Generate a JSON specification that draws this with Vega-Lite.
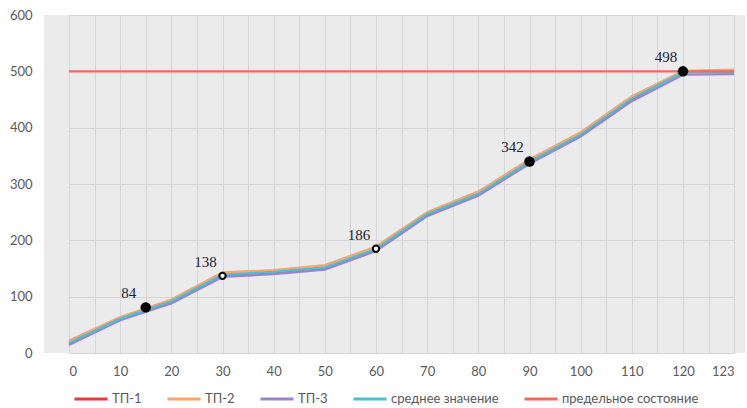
{
  "$schema": "https://vega.github.io/schema/vega-lite/v6.json",
  "autosize": {"type": "none"},
  "padding": {"left": 44, "top": 15, "right": 2, "bottom": 55},
  "width": 701,
  "height": 338,
  "background": "#ffffff",
  "config": {
    "view": {"fill": "#ebebeb", "stroke": null},
    "font": "Lato"
  },
  "datasets": {
    "lines": [
      {"x": 0, "value": 17, "series": "ТП-1"},
      {"x": 10, "value": 60, "series": "ТП-1"},
      {"x": 20, "value": 91, "series": "ТП-1"},
      {"x": 30, "value": 138, "series": "ТП-1"},
      {"x": 40, "value": 143, "series": "ТП-1"},
      {"x": 50, "value": 151, "series": "ТП-1"},
      {"x": 60, "value": 184, "series": "ТП-1"},
      {"x": 70, "value": 246, "series": "ТП-1"},
      {"x": 80, "value": 282, "series": "ТП-1"},
      {"x": 90, "value": 339, "series": "ТП-1"},
      {"x": 100, "value": 387, "series": "ТП-1"},
      {"x": 110, "value": 451, "series": "ТП-1"},
      {"x": 120, "value": 499, "series": "ТП-1"},
      {"x": 123, "value": 501, "series": "ТП-1"},
      {"x": 0, "value": 22, "series": "ТП-2"},
      {"x": 10, "value": 64, "series": "ТП-2"},
      {"x": 20, "value": 95, "series": "ТП-2"},
      {"x": 30, "value": 143, "series": "ТП-2"},
      {"x": 40, "value": 147, "series": "ТП-2"},
      {"x": 50, "value": 156, "series": "ТП-2"},
      {"x": 60, "value": 189, "series": "ТП-2"},
      {"x": 70, "value": 250, "series": "ТП-2"},
      {"x": 80, "value": 287, "series": "ТП-2"},
      {"x": 90, "value": 344, "series": "ТП-2"},
      {"x": 100, "value": 392, "series": "ТП-2"},
      {"x": 110, "value": 456, "series": "ТП-2"},
      {"x": 120, "value": 501, "series": "ТП-2"},
      {"x": 123, "value": 503, "series": "ТП-2"},
      {"x": 0, "value": 14, "series": "ТП-3"},
      {"x": 10, "value": 58, "series": "ТП-3"},
      {"x": 20, "value": 88, "series": "ТП-3"},
      {"x": 30, "value": 135, "series": "ТП-3"},
      {"x": 40, "value": 140, "series": "ТП-3"},
      {"x": 50, "value": 148, "series": "ТП-3"},
      {"x": 60, "value": 181, "series": "ТП-3"},
      {"x": 70, "value": 243, "series": "ТП-3"},
      {"x": 80, "value": 279, "series": "ТП-3"},
      {"x": 90, "value": 336, "series": "ТП-3"},
      {"x": 100, "value": 384, "series": "ТП-3"},
      {"x": 110, "value": 447, "series": "ТП-3"},
      {"x": 120, "value": 494, "series": "ТП-3"},
      {"x": 123, "value": 495, "series": "ТП-3"},
      {"x": 0, "value": 18, "series": "среднее значение"},
      {"x": 10, "value": 61, "series": "среднее значение"},
      {"x": 20, "value": 92, "series": "среднее значение"},
      {"x": 30, "value": 139, "series": "среднее значение"},
      {"x": 40, "value": 144, "series": "среднее значение"},
      {"x": 50, "value": 152, "series": "среднее значение"},
      {"x": 60, "value": 185, "series": "среднее значение"},
      {"x": 70, "value": 247, "series": "среднее значение"},
      {"x": 80, "value": 283, "series": "среднее значение"},
      {"x": 90, "value": 340, "series": "среднее значение"},
      {"x": 100, "value": 388, "series": "среднее значение"},
      {"x": 110, "value": 452, "series": "среднее значение"},
      {"x": 120, "value": 498, "series": "среднее значение"},
      {"x": 123, "value": 499, "series": "среднее значение"},
      {"x": 0, "value": 500, "series": "предельное состояние"},
      {"x": 123, "value": 500, "series": "предельное состояние"}
    ],
    "markers": [
      {"x": 15, "value": 81, "label": "84", "kind": "filled"},
      {"x": 30, "value": 137, "label": "138", "kind": "hollow"},
      {"x": 60, "value": 185, "label": "186", "kind": "hollow"},
      {"x": 90, "value": 340, "label": "342", "kind": "filled"},
      {"x": 120, "value": 500, "label": "498", "kind": "filled"}
    ]
  },
  "encoding": {
    "x": {
      "field": "x",
      "type": "quantitative",
      "scale": {"domain": [0, 120, 123], "range": [25, 639, 690], "nice": false, "zero": false},
      "axis": {
        "title": null,
        "values": [0, 5, 10, 15, 20, 25, 30, 35, 40, 45, 50, 55, 60, 65, 70, 75, 80, 85, 90, 95, 100, 105, 110, 115, 120, 121.5, 123],
        "labelExpr": "(datum.value % 10 == 0 || datum.value == 123) ? datum.label : ''",
        "grid": true,
        "gridColor": "#d6d6d6",
        "gridWidth": 1,
        "domain": false,
        "ticks": false,
        "labelPadding": 12,
        "labelFontSize": 13,
        "labelColor": "#595959",
        "labelFont": "Lato"
      }
    },
    "y": {
      "field": "value",
      "type": "quantitative",
      "scale": {"domain": [0, 600], "nice": false},
      "axis": {
        "title": null,
        "values": [0, 100, 200, 300, 400, 500, 600],
        "grid": true,
        "gridColor": "#d6d6d6",
        "gridWidth": 1,
        "domain": false,
        "ticks": false,
        "labelPadding": 12,
        "labelFontSize": 13,
        "labelColor": "#595959",
        "labelFont": "Lato"
      }
    }
  },
  "layer": [
    {
      "data": {"name": "lines"},
      "mark": {"type": "line", "strokeWidth": 2.2},
      "encoding": {
        "color": {
          "field": "series",
          "type": "nominal",
          "sort": ["ТП-1", "ТП-2", "ТП-3", "среднее значение", "предельное состояние"],
          "scale": {
            "domain": ["ТП-1", "ТП-2", "ТП-3", "среднее значение", "предельное состояние"],
            "range": ["#e8393f", "#f9a56b", "#9a83cf", "#4cc0d2", "#f26a5c"]
          },
          "legend": {
            "title": null,
            "orient": "none",
            "direction": "horizontal",
            "legendX": 29,
            "legendY": 366,
            "symbolType": "stroke",
            "symbolSize": 1089,
            "symbolStrokeWidth": 3,
            "labelFontSize": 13,
            "labelColor": "#595959",
            "labelFont": "Lato",
            "labelOffset": 3,
            "columnPadding": 19
          }
        },
        "order": {"field": "x", "type": "quantitative"}
      }
    },
    {
      "data": {"name": "markers"},
      "transform": [{"filter": "datum.kind == 'filled'"}],
      "mark": {"type": "point", "shape": "circle", "filled": true, "color": "#000000", "size": 110, "opacity": 1}
    },
    {
      "data": {"name": "markers"},
      "transform": [{"filter": "datum.kind == 'hollow'"}],
      "mark": {"type": "point", "shape": "circle", "filled": true, "fill": "#ffffff", "stroke": "#000000", "strokeWidth": 2, "size": 40, "opacity": 1}
    },
    {
      "data": {"name": "markers"},
      "mark": {"type": "text", "font": "Liberation Serif", "fontSize": 15, "color": "#1f2433", "dx": -17, "dy": -14, "align": "center", "baseline": "middle"},
      "encoding": {"text": {"field": "label", "type": "nominal"}}
    }
  ]
}
